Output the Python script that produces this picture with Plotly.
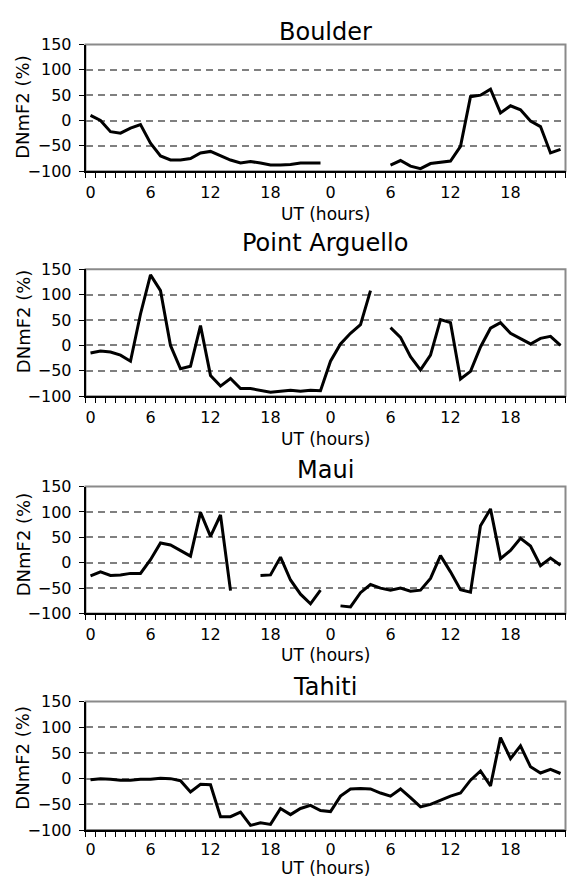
import plotly.graph_objects as go

# ---------------- data ----------------
hours = list(range(48))
tick_vals = [0, 6, 12, 18, 24, 30, 36, 42]
tick_text = ["0", "6", "12", "18", "0", "6", "12", "18"]
y_ticks = [-100, -50, 0, 50, 100, 150]

titles = ["Boulder", "Point Arguello", "Maui", "Tahiti"]

boulder = [10, 0, -22, -25, -15, -8, -45, -70, -78, -78, -75, -64, -61, -69, -78, -84,
           -81, -84, -88, -88, -87, -84, -84, -84,
           None, None, None, None, None, None,
           -88, -79, -90, -95, -85, -82, -80, -51, 47, 50, 62, 15, 29, 21, -1, -12, -64, -57]

point_arguello = [-15, -11, -13, -19, -31, 62, 139, 108, 0, -46, -41, 39, -59, -80, -65, -85,
                  -85, -88, -92, -90, -88, -90, -88, -89, -31, 3, 24, 41, 108,
                  None,
                  35, 16, -22, -48, -19, 51, 45, -66, -51, -3, 34, 45, 24, 13, 3, 14, 18, 0]

maui = [-26, -18, -25, -24, -21, -21, 6, 39, 35, 24, 13, 99, 52, 94, -55,
        None, None,
        -25, -24, 11, -34, -62, -81, -54,
        None,
        -85, -87, -59, -43, -50, -54, -50, -56, -54, -31, 14, -18, -53, -58, 73, 106,
        8, 24, 48, 33, -6, 9, -5]

tahiti = [-2, 0, -1, -3, -3, -1, -1, 1, 0, -4, -26, -11, -12, -74, -74, -65, -91, -86,
          -89, -58, -70, -58, -52, -62, -64, -34, -20, -19, -20, -28, -34, -20, -37, -55,
          -50, -42, -34, -28, -3, 15, -14, 80, 39, 64, 23, 11, 18, 10]

series = [boulder, point_arguello, maui, tahiti]

# ---------------- layout geometry (pixels) ----------------
W, H = 571, 888
X0, X1 = 85.5, 565.5
# (top, bottom, title_y, xlabel_standoff, ut_y, ytitle_y)
panels = [
    (36.3, 165.7, 23.0, 6, 209.0, 100.0),
    (266.0, 395.7, 239.0, 6, 439.0, 319.0),
    (488.0, 617.7, 471.0, 6, 660.0, 547.0),
    (707.7, 839.0, 693.3, 4, 878.0, 765.0),
]

FONT = "DejaVu Sans"
fig = go.Figure()
annotations = []
shapes = []

for i, (vals, title, p) in enumerate(zip(series, titles, panels), start=1):
    top, bottom, ty, standoff, uty, yty = p
    xa = "x" if i == 1 else f"x{i}"
    ya = "y" if i == 1 else f"y{i}"
    fig.add_trace(go.Scatter(
        x=hours, y=vals, mode="lines", xaxis=xa, yaxis=ya,
        line=dict(color="black", width=3), connectgaps=False, showlegend=False,
        hoverinfo="skip"))

    xkey = "xaxis" if i == 1 else f"xaxis{i}"
    ykey = "yaxis" if i == 1 else f"yaxis{i}"
    fig.layout[xkey] = dict(
        domain=[X0 / W, X1 / W], anchor=ya, range=[-0.5, 47.5],
        tickmode="array", tickvals=tick_vals, ticktext=tick_text,
        ticks="", showgrid=False, zeroline=False,
        showline=True, linecolor="black", linewidth=1.5,
        tickfont=dict(family=FONT, size=16, color="black"),
        ticklabelstandoff=standoff, ticklabeloverflow="allow",
        minor=dict(tickmode="linear", tick0=-0.5, dtick=1, ticks="outside",
                   ticklen=5, tickwidth=1, tickcolor="black", showgrid=False),
        fixedrange=True,
    )
    fig.layout[ykey] = dict(
        domain=[(H - bottom) / H, (H - top) / H], anchor=xa, range=[-100, 150],
        tickmode="array", tickvals=y_ticks,
        ticks="outside", ticklen=5, tickwidth=1, tickcolor="black",
        showgrid=True, gridcolor="#808080", gridwidth=2, griddash="7px,5px",
        zeroline=False, showline=True, linecolor="black", linewidth=1.5,
        tickfont=dict(family=FONT, size=16, color="black"),
        ticklabelstandoff=4,
        fixedrange=True,
    )
    # gray plot-area frame (top and right sides)
    shapes.append(dict(type="rect", xref=f"{xa} domain", yref=f"{ya} domain",
                       x0=0, x1=1, y0=0, y1=1, layer="below",
                       line=dict(color="#8a8a8a", width=2)))
    annotations.append(dict(text=title, xref="paper", yref="paper",
                            x=(X0 + X1) / 2 / W, y=(H - ty) / H,
                            xanchor="center", yanchor="middle", showarrow=False,
                            font=dict(family=FONT, size=24, color="black")))
    annotations.append(dict(text="UT (hours)", xref="paper", yref="paper",
                            x=(X0 + X1) / 2 / W, y=(H - uty) / H,
                            xanchor="center", yanchor="middle", showarrow=False,
                            font=dict(family=FONT, size=17, color="black")))
    annotations.append(dict(text="DNmF2 (%)", xref="paper", yref="paper",
                            x=23 / W, y=(H - yty) / H, textangle=-90,
                            xanchor="center", yanchor="middle", showarrow=False,
                            font=dict(family=FONT, size=18, color="black")))

fig.update_layout(
    width=W, height=H, margin=dict(l=0, r=0, t=0, b=0),
    paper_bgcolor="white", plot_bgcolor="white",
    annotations=annotations, shapes=shapes, showlegend=False,
)

fig.write_html("out.html", config={"displayModeBar": False},
               post_script="document.body.style.margin='0';document.body.style.overflow='hidden';")
